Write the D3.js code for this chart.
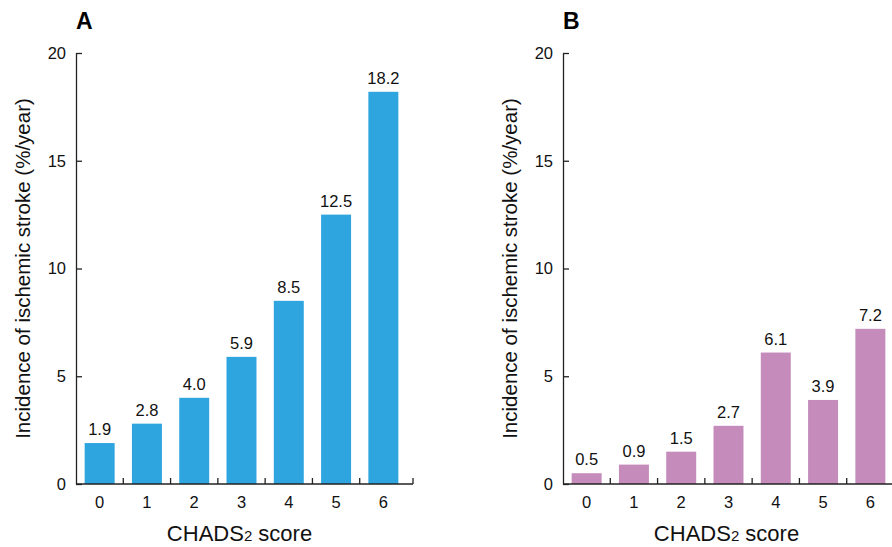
<!DOCTYPE html>
<html>
<head>
<meta charset="utf-8">
<script src="https://cdn.jsdelivr.net/npm/d3@7"></script>
<style>
  body { margin: 0; background: #fff; }
  svg { display: block; font-family: "Liberation Sans", Arial, Helvetica, sans-serif; }
</style>
</head>
<body>
<svg id="chart" width="892" height="547"></svg>
<script>
// CHADS2 score categories
var scores = ['0', '1', '2', '3', '4', '5', '6'];
// panel A: incidence of ischemic stroke (%/year)
var valuesA = [1.9, 2.8, 4.0, 5.9, 8.5, 12.5, 18.2];
// panel B
var valuesB = [0.5, 0.9, 1.5, 2.7, 6.1, 3.9, 7.2];
var yTicks = [0, 5, 10, 15, 20];

var svg = d3.select('#chart');

var plotH = 431;       // 0 -> 20
var bandW = 331;       // 7 bands
var axisW = 337;       // x-axis line runs a bit past the last band

function drawPanel(left, letter, values, color) {
  var top = 53;
  var g = svg.append('g').attr('transform', 'translate(' + left + ',' + top + ')');

  var x = d3.scaleBand().domain(scores).range([0, bandW])
    .paddingInner(0.366).paddingOuter(0.183);
  var y = d3.scaleLinear().domain([0, 20]).range([plotH, 0]);
  var step = x.step();

  // bars
  g.selectAll('rect.bar')
    .data(values)
    .enter().append('rect')
    .attr('class', 'bar')
    .attr('x', function (d, i) { return x(scores[i]); })
    .attr('width', x.bandwidth())
    .attr('y', function (d) { return y(d); })
    .attr('height', function (d) { return plotH - y(d); })
    .attr('fill', color);

  // value labels
  g.selectAll('text.val')
    .data(values)
    .enter().append('text')
    .attr('class', 'val')
    .attr('x', function (d, i) { return x(scores[i]) + x.bandwidth() / 2; })
    .attr('y', function (d) { return y(d) - 8; })
    .attr('text-anchor', 'middle')
    .style('font-size', '16.5px')
    .attr('fill', '#111')
    .text(function (d) { return d.toFixed(1); });

  // y axis, ticks pointing inward
  var yAxis = g.append('g')
    .call(d3.axisLeft(y).tickValues(yTicks).tickSizeInner(-6).tickSizeOuter(0).tickPadding(10));
  yAxis.select('.domain').attr('stroke', '#222').attr('stroke-width', 1.3);
  yAxis.selectAll('.tick line').attr('stroke', '#222').attr('stroke-width', 1.3);
  yAxis.selectAll('.tick text').style('font-size', '16.5px').attr('fill', '#111')
    .style('font-family', '"Liberation Sans", Arial, sans-serif');

  // x axis: labels under bars
  var xAxis = g.append('g')
    .attr('transform', 'translate(0,' + plotH + ')')
    .call(d3.axisBottom(x).tickSize(0).tickPadding(12));
  xAxis.select('.domain').remove();
  xAxis.selectAll('.tick text').style('font-size', '16.5px').attr('fill', '#111')
    .style('font-family', '"Liberation Sans", Arial, sans-serif');

  g.append('line')
    .attr('x1', 0).attr('x2', axisW)
    .attr('y1', plotH).attr('y2', plotH)
    .attr('stroke', '#222').attr('stroke-width', 1.5);

  // boundary ticks between bars, pointing up
  var bounds = d3.range(1, scores.length).map(function (k) { return k * step; });
  bounds.push(axisW);
  g.selectAll('line.bt')
    .data(bounds)
    .enter().append('line')
    .attr('class', 'bt')
    .attr('x1', function (d) { return d; }).attr('x2', function (d) { return d; })
    .attr('y1', plotH).attr('y2', plotH - 6)
    .attr('stroke', '#222').attr('stroke-width', 1.3);

  // x axis title with subscript
  var xt = g.append('text')
    .attr('x', bandW / 2 - 2)
    .attr('y', plotH + 57)
    .attr('text-anchor', 'middle')
    .style('font-size', '22px')
    .attr('fill', '#111');
  xt.append('tspan').text('CHADS');
  xt.append('tspan').style('font-size', '15px').text('2');
  xt.append('tspan').text(' score');

  // y axis title
  g.append('text')
    .attr('transform', 'translate(-46,' + (plotH / 2) + ') rotate(-90)')
    .attr('text-anchor', 'middle')
    .style('font-size', '20.5px')
    .attr('fill', '#111')
    .text('Incidence of ischemic stroke (%/year)');

  // panel letter
  g.append('text')
    .attr('x', 0)
    .attr('y', -24)
    .style('font-size', '23px')
    .style('font-weight', 'bold')
    .attr('fill', '#000')
    .text(letter);
}

drawPanel(76, 'A', valuesA, '#2FA5E0');
drawPanel(563, 'B', valuesB, '#C48BBB');
</script>
</body>
</html>
